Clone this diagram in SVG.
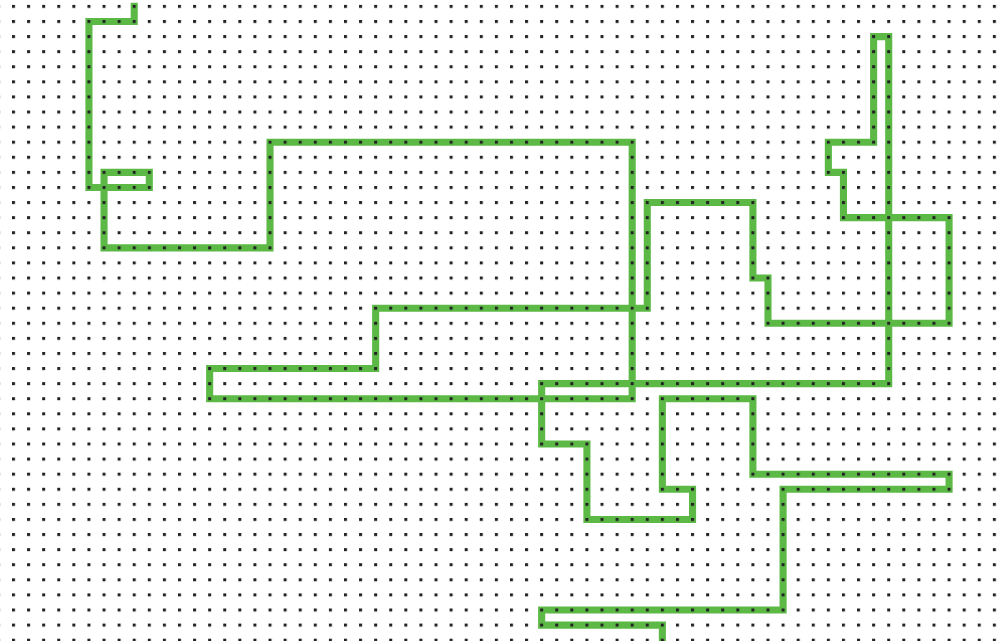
<svg xmlns="http://www.w3.org/2000/svg" width="997" height="641" viewBox="0 0 997 641">
<defs>
<style>
.route{fill:none;stroke:#5cb946;stroke-width:0.47;stroke-linejoin:miter;stroke-linecap:square}
</style>
<pattern id="dots" patternUnits="userSpaceOnUse" x="12" y="4.9" width="15.09" height="15.09"><rect width="3" height="3" fill="#222"/></pattern>
</defs>
<rect width="997" height="641" fill="#ffffff"/>
<g id="route">
<polyline class="route" transform="translate(13.5 6.4) scale(15.09)" points="8,0 8,1 5,1 5,12 9,12 9,11 6,11 6,16 17,16 17,9 41,9 41,26 13,26 13,24 24,24 24,20 42,20 42,13 49,13 49,18 50,18 50,21 62,21 62,14 55,14 55,11 54,11 54,9 57,9 57,2 58,2 58,25 35,25 35,29 38,29 38,34 45,34 45,32 43,32 43,26 49,26 49,31 62,31 62,32 51,32 51,40 35,40 35,41 43,41 43,42"/>
</g>
<rect id="grid" width="997" height="641" fill="url(#dots)"/>
</svg>
